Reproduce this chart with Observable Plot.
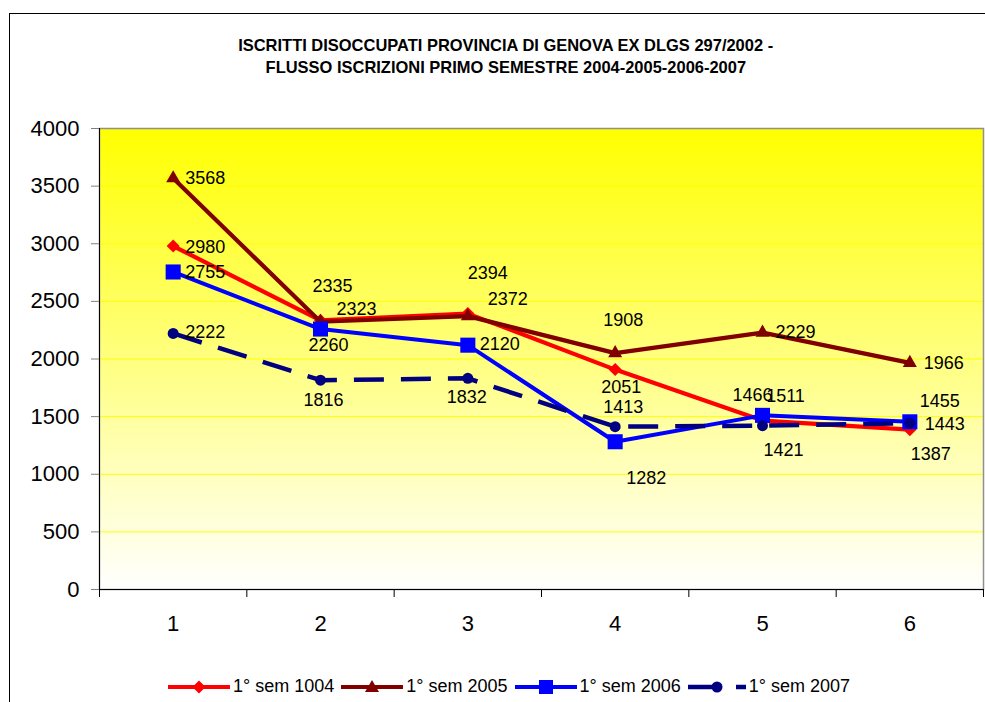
<!DOCTYPE html>
<html>
<head>
<meta charset="utf-8">
<script src="https://cdn.jsdelivr.net/npm/d3@7"></script>
<script src="https://cdn.jsdelivr.net/npm/@observablehq/plot@0.6"></script>
<style>
  body { margin: 0; background: #fff; }
  #wrap { position: relative; width: 985px; height: 702px; overflow: hidden; font-family: "Liberation Sans", Arial, sans-serif; }
  #frame { position: absolute; left: 9px; top: 13px; width: 990px; height: 700px; border-left: 1px solid #000; border-top: 1px solid #000; pointer-events: none; }
  #title { position: relative; height: 100px; box-sizing: border-box; padding-top: 34px; text-align: center; font-family: "Liberation Sans", Arial, sans-serif; font-weight: bold; font-size: 15px; line-height: 22px; color: #000; }
  #title div { width: 985px; text-align: center; }
  #title span { display: inline-block; transform-origin: 50% 50%; white-space: nowrap; }
  #chart svg { display: block; }
  #legend { position: relative; height: 42px; }
  #legend .items { position: absolute; left: 168px; top: 16px; display: flex; align-items: center; font-size: 18px; color: #000; white-space: nowrap; }
  #legend .item { display: flex; align-items: center; margin-right: 7px; }
  #legend svg { display: block; margin-right: 3px; }
</style>
</head>
<body>
<div id="wrap">
  <div id="frame"></div>
  <div id="title"></div>
  <div id="chart"></div>
  <div id="legend"><div class="items"></div></div>
</div>
<script>
// ---- data ----
const titleLines = [
  "ISCRITTI DISOCCUPATI PROVINCIA DI GENOVA EX DLGS 297/2002 -",
  "FLUSSO ISCRIZIONI PRIMO SEMESTRE 2004-2005-2006-2007"
];
const categories = [1, 2, 3, 4, 5, 6];
const seriesNames = ["1° sem 1004", "1° sem 2005", "1° sem 2006", "1° sem 2007"];
const sem2004 = [2980, 2335, 2394, 1908, 1466, 1387];
const sem2005 = [3568, 2323, 2372, 2051, 2229, 1966];
const sem2006 = [2755, 2260, 2120, 1282, 1511, 1455];
const sem2007 = [2222, 1816, 1832, 1413, 1421, 1443];
const yTicks = [0, 500, 1000, 1500, 2000, 2500, 3000, 3500, 4000];

// ---- label placement (pixel offsets from each point) ----
const labelOffsets2004 = [[32, 1], [12, -34], [20, -40], [8, -49], [-10, -25], [21, 25]];
const labelOffsets2005 = [[32, 0], [36, -13], [40, -17], [6, 34], [33, 0], [34, 0]];
const labelOffsets2006 = [[32, 0], [8, 16], [32, -1], [31, 36], [23, -19], [30, -21]];
const labelOffsets2007 = [[32, -1], [3, 20], [-1, 19], [8, -19], [21, 25], [35, 1]];

// ---- styles ----
const diamond = {
  draw(context, size) {
    const r = Math.sqrt(size / 2);
    context.moveTo(0, -r); context.lineTo(r, 0); context.lineTo(0, r); context.lineTo(-r, 0); context.closePath();
  }
};
const styles = [
  { color: "#ff0000", symbol: diamond, r: 5.2, width: 4.2, dash: null },
  { color: "#800000", symbol: "triangle", r: 5.2, width: 4.2, dash: null },
  { color: "#0000ff", symbol: "square", r: 8.5, width: 4, dash: null },
  { color: "#000080", symbol: "circle", r: 5.5, width: 4.5, dash: "30,17" }
];
const allValues = [sem2004, sem2005, sem2006, sem2007];
const allOffsets = [labelOffsets2004, labelOffsets2005, labelOffsets2006, labelOffsets2007];

// title (condensed bold, scaled to the reference width)
const titleEl = document.getElementById("title");
titleEl.innerHTML = titleLines.map(t => `<div><span>${t}</span></div>`).join("");
const spans = titleEl.querySelectorAll("span");
const w0 = spans[0].getBoundingClientRect().width;
const sx = 535 / w0;
spans.forEach(sp => { sp.style.transform = `translateX(13px) scale(${sx}, 1.12)`; });

const boundaries = d3.range(0.5, categories.length + 1, 1);
const gridValues = yTicks.filter(v => v > 0 && v < 4000);

const seriesMarks = [];
allValues.forEach((vals, s) => {
  const st = styles[s];
  const rows = categories.map((c, i) => ({ x: c, y: vals[i] }));
  seriesMarks.push(Plot.line(rows, {
    x: "x", y: "y", stroke: st.color, strokeWidth: st.width,
    strokeDasharray: st.dash || undefined, strokeLinejoin: "round", strokeLinecap: st.dash ? "butt" : "round"
  }));
  seriesMarks.push(Plot.dot(rows, { x: "x", y: "y", symbol: st.symbol, r: st.r, fill: st.color, stroke: "none" }));
});
const labelMarks = [];
allValues.forEach((vals, s) => {
  vals.forEach((v, i) => {
    const [dx, dy] = allOffsets[s][i];
    labelMarks.push(Plot.text([{ x: categories[i], y: v }], {
      x: "x", y: "y", text: d => String(d.y), dx, dy,
      fontSize: 18, fill: "#000", textAnchor: "middle"
    }));
  });
});

const bgDefs = () => {
  const defs = d3.create("svg:defs");
  const g = defs.append("linearGradient").attr("id", "plotBg")
    .attr("x1", 0).attr("y1", 0).attr("x2", 0).attr("y2", 1);
  g.append("stop").attr("offset", "0%").attr("stop-color", "#ffff00");
  g.append("stop").attr("offset", "100%").attr("stop-color", "#ffffff");
  return defs.node();
};

const chart = Plot.plot({
  width: 985,
  height: 560,
  marginTop: 28,
  marginBottom: 71,
  marginLeft: 99,
  marginRight: 2,
  x: { domain: [0.5, categories.length + 0.5], label: null },
  y: { domain: [0, 4000], label: null },
  style: { fontFamily: "'Liberation Sans', Arial, sans-serif", background: "none", overflow: "visible", color: "#000" },
  marks: [
    bgDefs,
    Plot.frame({ fill: "url(#plotBg)" }),
    Plot.ruleY(gridValues, { stroke: "#ffff00", strokeWidth: 1 }),
    Plot.frame({ stroke: "#909090", strokeWidth: 1.5 }),
    Plot.axisY({ ticks: yTicks, tickSize: 8, tickPadding: 12, fontSize: 22, stroke: "#808080", fill: "#000", tickFormat: d3.format("d"), label: null }),
    Plot.axisX({ ticks: boundaries, tickSize: 8, tickFormat: () => "", stroke: "#000", label: null }),
    Plot.axisX({ ticks: categories, tickSize: 0, tickPadding: 26, fontSize: 22, fill: "#000", tickFormat: d => String(d), label: null }),
    Plot.ruleX([0.5], { stroke: "#000", strokeWidth: 1 }),
    Plot.ruleY([0], { stroke: "#000", strokeWidth: 1 }),
    ...seriesMarks,
    ...labelMarks
  ]
});
document.getElementById("chart").appendChild(chart);

// legend
const legendSymbols = [
  c => `<polygon points="31,3.5 37.5,10 31,16.5 24.5,10" fill="${c}"/>`,
  c => `<polygon points="31,3 38,15 24,15" fill="${c}"/>`,
  c => `<rect x="24" y="3" width="14" height="14" fill="${c}"/>`,
  c => `<circle cx="29" cy="10" r="5.5" fill="${c}"/>`
];
const items = document.querySelector("#legend .items");
seriesNames.forEach((name, s) => {
  const st = styles[s];
  const w = st.dash ? 58 : 62;
  const dash = st.dash ? `stroke-dasharray="28,20"` : "";
  const sym = legendSymbols[s](st.color);
  const el = document.createElement("div");
  el.className = "item";
  el.innerHTML = `<svg width="${w}" height="20"><line x1="0" y1="10" x2="${w}" y2="10" stroke="${st.color}" stroke-width="${st.width}" ${dash}/>${sym}</svg><span>${name}</span>`;
  items.appendChild(el);
});
</script>
</body>
</html>
